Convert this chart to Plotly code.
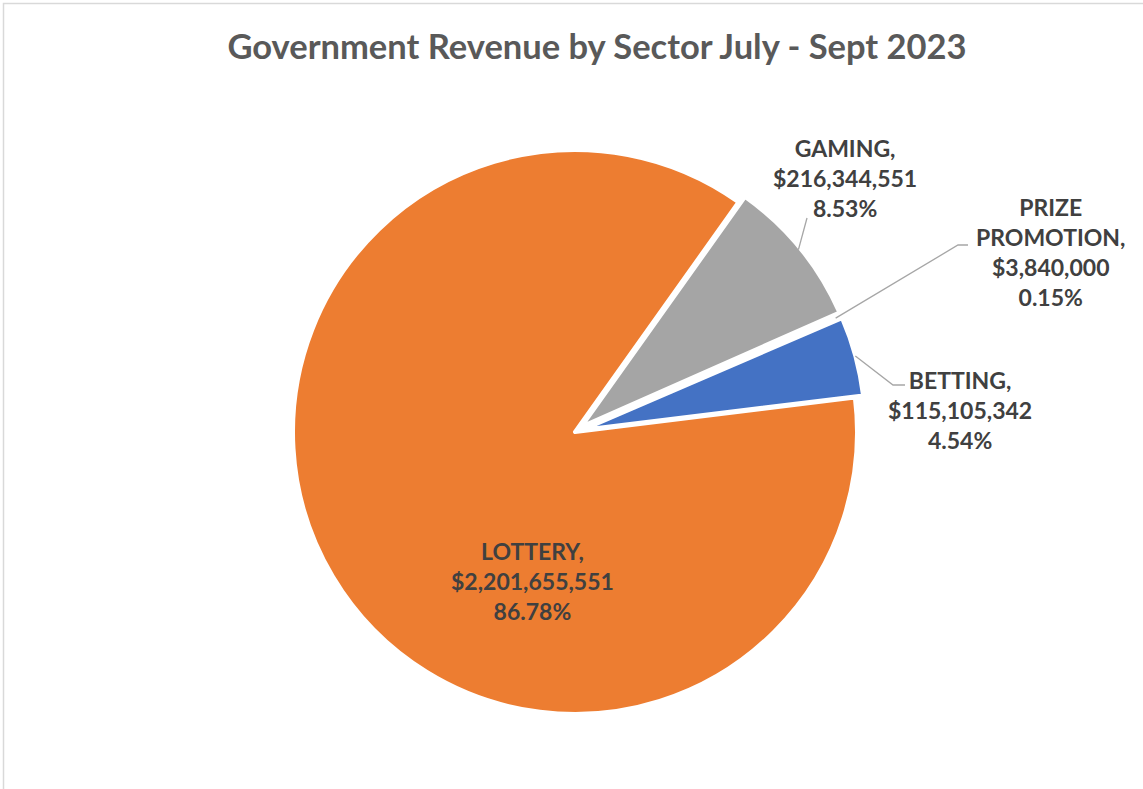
import math
import plotly.graph_objects as go

# ---- data ----
sectors = ["LOTTERY", "GAMING", "PRIZE PROMOTION", "BETTING"]
label_names = ["LOTTERY,", "GAMING,", "PRIZE<br>PROMOTION,", "BETTING,"]
revenue = [2201655551, 216344551, 3840000, 115105342]
colors = ["#ED7D31", "#A5A5A5", "#FFC000", "#4472C4"]
title_text = "Government Revenue by Sector July - Sept 2023"

# ---- layout geometry (pixels) ----
W, H = 1143, 789
cx, cy, R = 575, 432, 282
pulls = [0, 0.03, 0.03, 0.03]
rotation = 83
maxpull = max(pulls)
half = R * (1 + maxpull)


def px(x):
    return x / W


def py(y):
    return 1 - y / H


total = sum(revenue)
pcts = [v / total * 100 for v in revenue]
texts = [f"{n}<br>${v:,}<br>{p:.2f}%" for n, v, p in zip(label_names, revenue, pcts)]

fig = go.Figure()
fig.add_trace(go.Pie(
    labels=sectors,
    values=revenue,
    sort=False,
    direction="clockwise",
    rotation=rotation,
    pull=pulls,
    marker=dict(colors=colors, line=dict(color="white", width=4)),
    textinfo="none",
    hoverinfo="label+value+percent",
    showlegend=False,
    domain=dict(x=[px(cx - half), px(cx + half)], y=[py(cy + half), py(cy - half)]),
))

# mid angles of slices (clockwise from 12 o'clock) derived from data
cum = 0
mids = []
for v in revenue:
    a0 = rotation + cum / total * 360
    cum += v
    a1 = rotation + cum / total * 360
    mids.append((a0 + a1) / 2)


def edge_point(i, extra=0.0):
    a = math.radians(mids[i])
    r = R * (1 + pulls[i]) + extra
    return cx + r * math.sin(a), cy - r * math.cos(a)


lab_font = dict(family="Lato", size=23, color="#404040", weight="bold")

# label anchor centres (pixels) – styling
label_pos = {0: (532, 581), 1: (845, 178), 2: (1050, 252), 3: (960, 410)}
annotations = []
for i, (x, y) in label_pos.items():
    annotations.append(dict(
        x=px(x), y=py(y), xref="paper", yref="paper",
        text=texts[i], showarrow=False, font=lab_font,
        xanchor="center", yanchor="middle", align="center",
    ))

# leader lines
shapes = []
line_style = dict(color="#A6A6A6", width=1.3)
# gaming
sx, sy = edge_point(1, -2)
shapes.append(dict(type="line", xref="paper", yref="paper",
                   x0=px(sx), y0=py(sy), x1=px(807), y1=py(218), line=line_style))
# prize promotion
sx, sy = edge_point(2, -6)
shapes.append(dict(type="path", xref="paper", yref="paper",
                   path=f"M {px(sx)} {py(sy)} L {px(958)} {py(245)} L {px(968)} {py(245)}",
                   line=line_style))
# betting
sx, sy = edge_point(3, 0)
shapes.append(dict(type="path", xref="paper", yref="paper",
                   path=f"M {px(sx)} {py(sy)} L {px(893)} {py(385)} L {px(905)} {py(385)}",
                   line=line_style))
# chart border
shapes.append(dict(type="rect", xref="paper", yref="paper",
                   x0=px(3.5), y0=-0.05, x1=1.05, y1=py(3.5),
                   line=dict(color="#D9D9D9", width=1.5)))

fig.update_layout(
    width=W, height=H,
    margin=dict(l=0, r=0, t=0, b=0),
    paper_bgcolor="white",
    plot_bgcolor="white",
    title=dict(text=title_text, x=px(597), y=py(47), xanchor="center", yanchor="middle",
               font=dict(family="Lato", size=34.5, color="#595959", weight="bold")),
    annotations=annotations,
    shapes=shapes,
)

fig.write_html(
    "out.html",
    config={"displayModeBar": False},
    post_script="document.body.style.margin='0px';document.body.style.overflow='hidden';",
)
